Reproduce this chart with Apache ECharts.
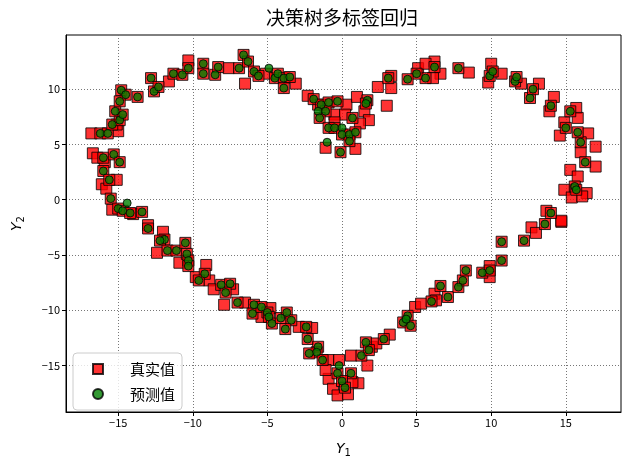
<!DOCTYPE html>
<html>
<head>
<meta charset="utf-8">
<script src="https://cdn.jsdelivr.net/npm/echarts@6/dist/echarts.min.js"></script>
<style>
  html, body { margin: 0; padding: 0; background: #fff; }
  #chart { width: 630px; height: 463px; }
</style>
</head>
<body>
<div id="chart"></div>
<script>
// 真实值 (red squares)
const trueValues = [
  [-16.8, 6.0], [-15.0, 6.2], [-15.1, 6.8], [-16.7, 4.2], [-16.4, 3.8], [-15.9, 3.4],
  [-16.1, 1.4], [-15.8, 1.0], [-15.1, 1.8], [-15.4, -0.9], [-14.0, -1.3], [-13.0, -2.3],
  [-11.6, 10.7], [-10.3, 12.6], [-7.6, 11.9], [-6.5, 10.5], [-13.7, 9.3],
  [-12.0, -2.9], [-12.4, -4.8], [-10.9, -5.7], [-9.1, -5.9], [-9.8, -7.0], [-8.9, -7.3],
  [-8.6, -8.1], [-7.3, -8.1], [-7.9, -9.5], [-6.5, -9.3], [-4.8, -9.8], [-5.4, -10.6],
  [-2.9, -11.5], [-2.0, -11.6], [-0.9, -14.5], [-0.2, -14.5], [-0.9, -16.2], [-0.6, -17.1],
  [-0.3, -17.7], [0.4, -17.6], [1.1, -16.6], [0.6, -14.1], [0.7, -16.5], [1.7, -15.0],
  [-1.1, -15.4], [2.0, -13.3], [2.3, -13.0], [3.2, -12.2], [4.9, -9.7], [5.3, -9.4],
  [6.2, -8.5], [6.3, -9.1], [9.9, -6.0], [9.9, -7.0], [12.7, -2.5], [13.0, -3.0],
  [14.7, -2.0], [13.7, -1.0], [14.7, -1.9],
  [6.6, 11.4], [8.5, 11.5], [10.0, 12.3], [10.7, 11.4], [9.8, 10.6], [12.0, 10.5],
  [13.2, 10.5], [14.2, 9.3], [13.9, 8.0], [15.7, 8.3], [15.8, 7.4], [14.9, 7.0],
  [14.6, 5.8], [16.5, 6.0], [17.0, 4.8], [16.0, 4.3], [17.0, 3.0], [15.3, 2.7],
  [15.8, 2.1], [14.9, 0.9], [16.4, 0.6], [15.4, 0.2], [16.1, 0.3],
  [-5.1, 11.4], [-3.1, 10.5], [-2.3, 9.4], [-1.6, 8.6], [-0.5, 7.7], [0.3, 8.6],
  [1.0, 9.3], [2.4, 10.2], [3.3, 11.2], [3.3, 10.1], [3.0, 8.5], [1.5, 8.0], [1.8, 7.2],
  [0.2, 7.7], [-1.1, 4.7], [0.9, 4.6], [1.2, 6.9], [-0.5, 7.0], [5.1, 11.9], [6.1, 11.0],
  [6.2, 12.5], [5.6, 12.3],
  [-16.2, 6.0], [-15.7, 6.0], [-15.4, 6.8], [-14.9, 7.2], [-15.2, 8.0], [-14.7, 7.7],
  [-14.8, 9.9], [-14.5, 9.5], [-12.8, 11.0], [-12.6, 9.8], [-12.3, 10.2], [-11.3, 11.4],
  [-10.7, 11.3], [-10.3, 11.9], [-9.3, 12.3], [-9.3, 11.4], [-8.5, 11.3], [-8.3, 12.0],
  [-6.9, 11.9], [-6.6, 13.1], [-6.3, 12.5], [-5.9, 11.6], [-14.9, 8.9],
  [-16.0, 3.8], [-15.3, 4.1], [-14.9, 3.4], [-16.0, 2.6], [-15.6, 1.8], [-15.5, 0.1],
  [-15.0, -0.8], [-14.7, -1.0], [-14.2, -1.2], [-13.4, -1.1],
  [-13.0, -2.6], [-11.9, -3.6], [-12.2, -3.7], [-11.7, -4.6], [-11.1, -4.6], [-10.5, -3.9],
  [-10.4, -4.9], [-10.3, -5.5], [-10.3, -6.0], [-9.2, -6.7], [-9.6, -7.3], [-8.1, -7.7],
  [-7.5, -7.6], [-7.8, -8.4], [-7.0, -9.3], [-5.9, -9.5], [-6.0, -10.3],
  [-5.4, -9.7], [-5.0, -10.2], [-4.9, -10.6], [-4.7, -11.2], [-4.1, -10.7], [-3.7, -10.2],
  [-3.4, -10.9], [-3.8, -11.7], [-2.4, -11.5], [-2.3, -12.6], [-1.6, -13.3], [-1.7, -13.8],
  [-2.2, -13.9], [-1.3, -14.5], [-0.3, -15.7], [0.6, -15.7], [0.0, -16.4], [0.2, -17.0],
  [1.3, -14.1], [1.6, -12.9], [1.8, -13.6], [2.8, -12.6], [4.1, -11.1], [4.4, -10.5],
  [4.6, -11.4], [6.0, -9.2], [6.6, -7.8], [7.1, -8.8], [7.8, -7.9], [8.1, -7.3],
  [8.3, -6.4], [9.4, -6.6], [9.9, -6.4], [10.7, -5.5], [10.7, -3.8], [12.2, -3.7],
  [13.6, -2.2], [14.0, -1.2],
  [15.6, 1.2], [15.7, 0.9], [16.3, 3.4], [16.0, 5.2], [15.8, 6.1], [15.0, 6.5],
  [15.3, 8.0], [14.0, 8.5], [12.6, 9.2], [12.8, 10.0], [11.6, 10.7], [11.7, 11.1],
  [9.9, 11.2], [10.1, 11.6], [7.8, 11.9], [6.2, 12.0], [5.6, 11.0], [5.0, 11.4],
  [4.4, 10.9], [3.1, 11.0],
  [-5.6, 11.2], [-4.5, 11.0], [-4.3, 11.4], [-3.9, 11.0], [-3.5, 11.1], [-3.9, 10.1],
  [-1.9, 9.1], [-1.4, 8.6], [-0.9, 8.8], [-0.3, 8.9], [-1.1, 8.0], [-1.5, 7.4],
  [1.7, 9.0], [1.6, 8.7], [0.7, 7.4], [-0.9, 6.5], [-0.5, 6.5], [0.0, 5.9], [0.5, 5.9],
  [0.9, 6.1], [0.5, 5.3], [-0.1, 4.3]
]

// 预测值 (green circles)
const predValues = [
  [-16.2, 6.0], [-15.7, 6.0], [-15.4, 6.8], [-14.9, 7.2], [-15.2, 8.0], [-14.7, 7.7],
  [-14.8, 9.9], [-14.5, 9.5], [-13.7, 9.3], [-12.8, 11.0], [-12.6, 9.8], [-12.3, 10.2],
  [-11.3, 11.4], [-10.7, 11.3], [-10.3, 11.9], [-9.3, 12.3], [-9.3, 11.4], [-8.5, 11.3],
  [-8.3, 12.0], [-6.9, 11.9], [-6.6, 13.1], [-6.3, 12.5], [-5.9, 11.6], [-14.9, 8.9],
  [-16.0, 3.8], [-15.3, 4.1], [-14.9, 3.4], [-16.0, 2.6], [-15.6, 1.8], [-15.5, 0.1],
  [-15.0, -0.8], [-14.4, -0.3], [-14.7, -1.0], [-14.2, -1.2], [-13.4, -1.1],
  [-13.0, -2.6], [-11.9, -3.6], [-12.2, -3.7], [-11.7, -4.6], [-11.1, -4.6], [-10.5, -3.9],
  [-10.4, -4.9], [-10.3, -5.5], [-10.3, -6.0], [-9.2, -6.7], [-9.6, -7.3], [-8.1, -7.7],
  [-7.5, -7.6], [-7.8, -8.4], [-7.0, -9.3], [-5.9, -9.5], [-6.0, -10.3],
  [-5.4, -9.7], [-5.0, -10.2], [-4.9, -10.6], [-4.7, -11.2], [-4.1, -10.7], [-3.7, -10.2],
  [-3.4, -10.9], [-3.8, -11.7], [-2.4, -11.5], [-2.3, -12.6], [-1.6, -13.3], [-1.7, -13.8],
  [-2.2, -13.9], [-1.3, -14.5], [-0.2, -15.0], [-0.3, -15.7], [0.6, -15.7], [0.0, -16.4],
  [0.2, -17.0],
  [1.3, -14.1], [1.6, -12.9], [1.8, -13.6], [2.8, -12.6], [4.1, -11.1], [4.4, -10.5],
  [4.6, -11.4], [4.3, -10.8], [6.0, -9.2], [6.6, -7.8], [7.1, -8.8], [7.8, -7.9],
  [8.1, -7.3], [8.3, -6.4], [9.4, -6.6], [9.9, -6.4], [10.7, -5.5], [10.7, -3.8],
  [12.2, -3.7], [13.6, -2.2], [14.0, -1.2],
  [15.6, 1.2], [15.7, 0.9], [16.3, 3.4], [16.0, 5.2], [15.8, 6.1], [15.0, 6.5],
  [15.3, 8.0], [14.0, 8.5], [12.6, 9.2], [12.8, 10.0], [11.6, 10.7], [11.7, 11.1],
  [9.9, 11.2], [10.1, 11.6], [7.8, 11.9], [6.2, 12.0], [5.6, 11.0], [5.0, 11.4],
  [4.4, 10.9], [3.1, 11.0],
  [-5.6, 11.2], [-4.9, 11.9], [-4.5, 11.0], [-4.3, 11.4], [-3.9, 11.0], [-3.5, 11.1],
  [-3.9, 10.1], [-1.9, 9.1], [-1.4, 8.6], [-0.9, 8.8], [-0.3, 8.9], [-1.6, 8.0],
  [-1.1, 8.0], [-1.5, 7.4], [1.7, 9.0], [1.6, 8.7], [0.7, 7.4], [-0.9, 6.5], [-0.5, 6.5],
  [0.0, 6.5], [0.0, 5.9], [0.5, 5.9], [0.9, 6.1], [0.5, 5.3], [-1.0, 5.2], [-0.1, 4.3]
]

const xTicks = [-15, -10, -5, 0, 5, 10, 15]
const yTicks = [-15, -10, -5, 0, 5, 10]

const fmt = v => String(v).replace('-', '\u2212')

const chart = echarts.init(document.getElementById('chart'))

const axisCommon = {
  type: 'value',
  minInterval: 5,
  maxInterval: 5,
  splitNumber: 7,
  axisLine: { show: true, onZero: false, lineStyle: { color: '#000', width: 1 } },
  splitLine: { show: true, lineStyle: { color: '#777', type: [1, 2], width: 1 } }
}

chart.setOption({
  animation: false,
  title: {
    text: '决策树多标签回归',
    left: 342,
    top: 8,
    padding: 0,
    textAlign: 'center',
    textStyle: { fontFamily: 'Noto Sans CJK SC', fontSize: 19, fontWeight: 'normal', color: '#000' }
  },
  grid: {
    left: 66, right: 9, top: 35, bottom: 49,
    show: true, borderColor: '#000', borderWidth: 1
  },
  legend: {
    orient: 'vertical',
    left: 73,
    top: 353,
    padding: [6, 7, 6, 19],
    itemGap: 5,
    itemWidth: 10,
    itemHeight: 10,
    backgroundColor: 'rgba(255,255,255,0.8)',
    borderColor: '#ccc',
    borderWidth: 1,
    borderRadius: 4,
    textStyle: { fontFamily: 'Noto Sans CJK SC', fontSize: 15, color: '#000', lineHeight: 20, padding: [0, 0, 0, 22] },
    data: [
      { name: '真实值', icon: 'rect' },
      { name: '预测值', icon: 'circle' }
    ]
  },
  xAxis: Object.assign({}, axisCommon, {
    min: -18.5,
    max: 18.7,
    axisTick: { show: true, inside: false, length: 4, customValues: xTicks, lineStyle: { color: '#000' } },
    axisLabel: { customValues: xTicks, formatter: fmt, margin: 5, color: '#000', fontSize: 11, fontFamily: 'Noto Sans CJK SC' },
    name: '{i|Y}{s|1}',
    nameLocation: 'middle',
    nameGap: 29,
    nameTextStyle: {
      color: '#000',
      rich: {
        i: { fontFamily: 'DejaVu Sans', fontStyle: 'italic', fontSize: 14, color: '#000' },
        s: { fontFamily: 'DejaVu Sans', fontSize: 10, color: '#000', padding: [7, 0, 0, 0] }
      }
    }
  }),
  yAxis: Object.assign({}, axisCommon, {
    min: -19.2,
    max: 14.9,
    axisTick: { show: true, inside: false, length: 4, customValues: yTicks, lineStyle: { color: '#000' } },
    axisLabel: { customValues: yTicks, formatter: fmt, margin: 6, color: '#000', fontSize: 11, fontFamily: 'Noto Sans CJK SC' },
    name: '{i|Y}{s|2}',
    nameLocation: 'middle',
    nameGap: 40,
    nameTextStyle: {
      color: '#000',
      rich: {
        i: { fontFamily: 'DejaVu Sans', fontStyle: 'italic', fontSize: 14, color: '#000' },
        s: { fontFamily: 'DejaVu Sans', fontSize: 10, color: '#000', padding: [7, 0, 0, 0] }
      }
    }
  }),
  series: [
    {
      name: '真实值',
      type: 'scatter',
      symbol: 'rect',
      symbolSize: 11,
      data: trueValues,
      itemStyle: { color: 'rgba(255,0,0,0.8)', borderColor: 'rgba(0,0,0,0.8)', borderWidth: 1, opacity: 1 }
    },
    {
      name: '预测值',
      type: 'scatter',
      symbol: 'circle',
      symbolSize: 8,
      data: predValues,
      itemStyle: { color: 'rgba(0,128,0,0.8)', borderColor: 'rgba(0,0,0,0.8)', borderWidth: 1, opacity: 1 }
    }
  ]
})
</script>
</body>
</html>
